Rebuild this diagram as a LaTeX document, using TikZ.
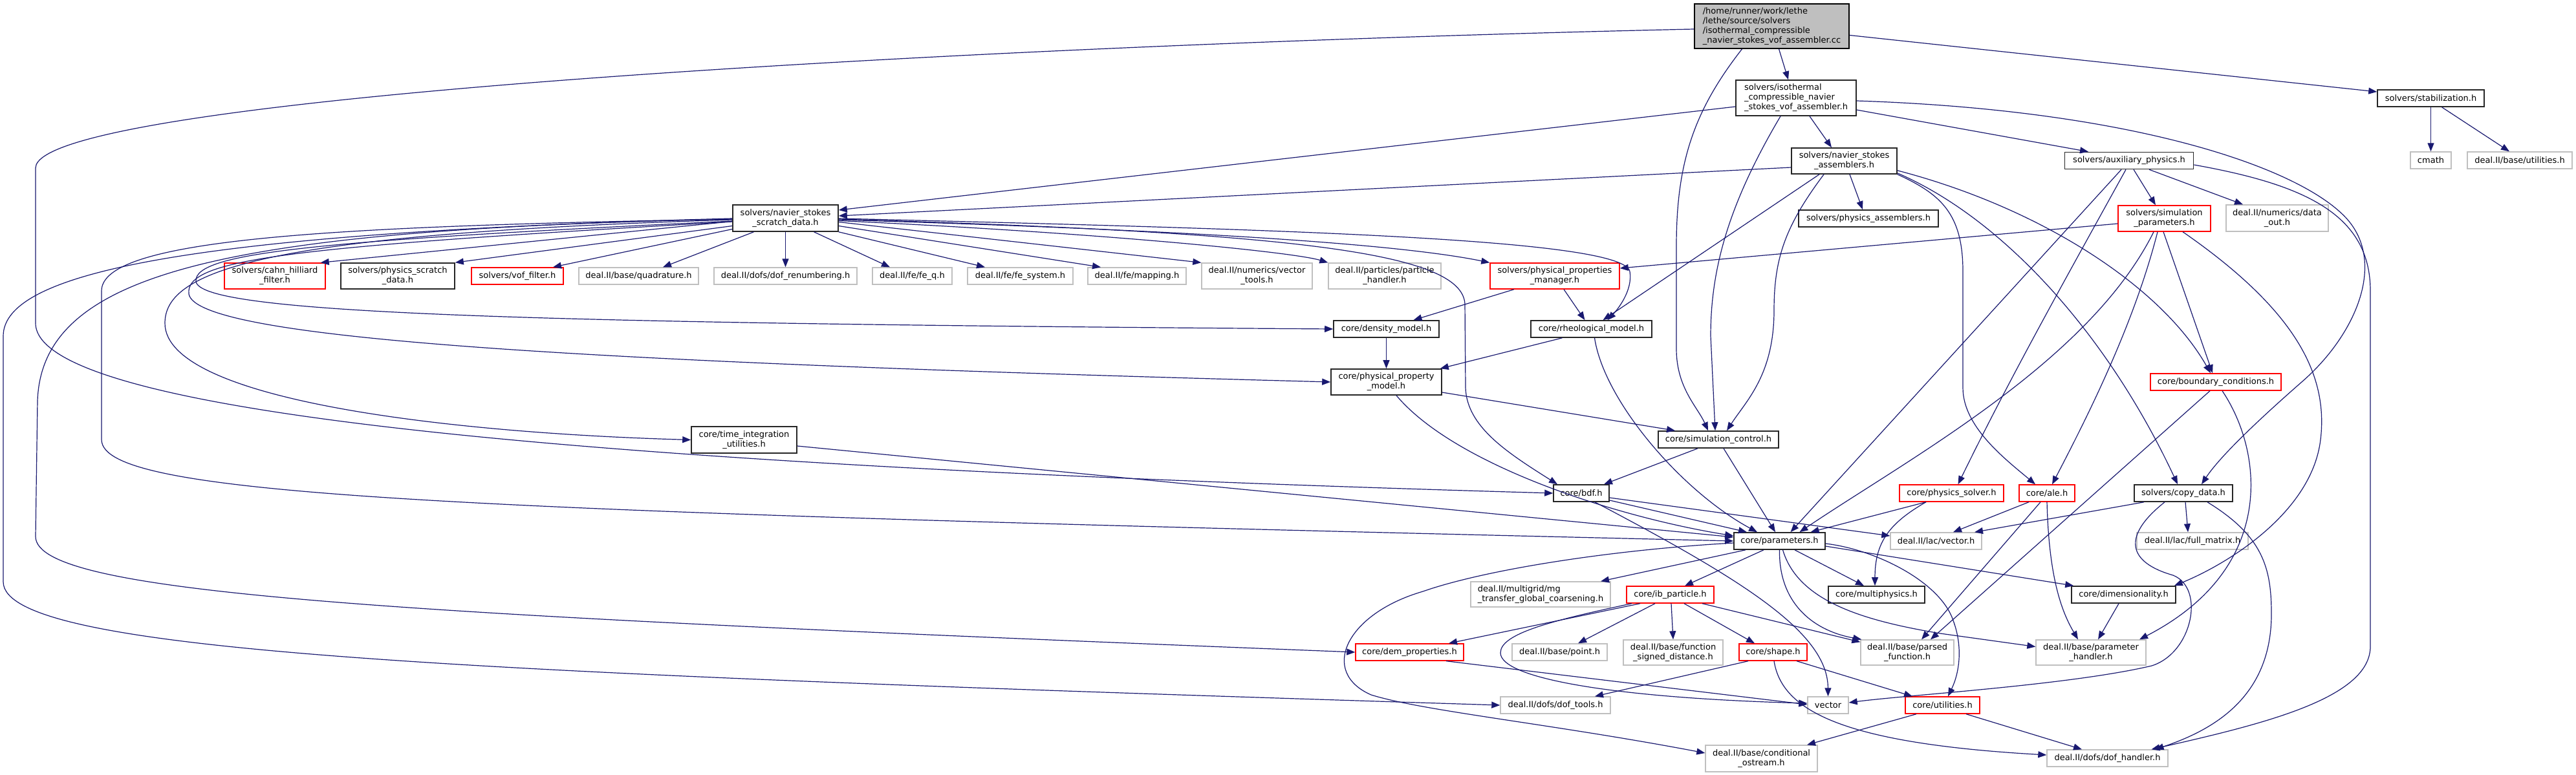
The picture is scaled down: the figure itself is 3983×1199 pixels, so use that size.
\documentclass[tikz,border=0pt]{standalone}
\usepackage{fontspec}
\setmainfont{DejaVu Sans}
\usetikzlibrary{arrows.meta}
\definecolor{incblue}{HTML}{191970}
\definecolor{extgray}{HTML}{BFBFBF}
\definecolor{rootfill}{HTML}{BFBFBF}
\definecolor{truncred}{HTML}{FF0000}

\begin{document}
\begin{tikzpicture}[x=1pt, y=-1pt,
  hdr/.style={rectangle, draw=black!85, line width=1.6pt, fill=white, inner sep=0pt, align=center, font=\fontsize{13}{15}\selectfont},
  ext/.style={hdr, draw=extgray, line width=1.4pt},
  trunc/.style={hdr, draw=truncred, line width=1.4pt},
  root/.style={hdr, draw=black, fill=rootfill, align=left},
  inc/.style={-{Triangle[length=13pt,width=10pt]}, line width=1.2pt, draw=incblue},
]
\path[use as bounding box, fill=white] (0,0) rectangle (3983,1199);

% top rows
\node[root, minimum width=239pt, minimum height=69pt] (main) at (2739.5,40.5) {/home/runner/work/lethe\\/lethe/source/solvers\\/isothermal\_compressible\\\_navier\_stokes\_vof\_assembler.cc};
\node[hdr, align=left, minimum width=186pt, minimum height=55pt] (iso) at (2777,151.5) {solvers/isothermal\\\_compressible\_navier\\\_stokes\_vof\_assembler.h};
\node[hdr, minimum width=165pt, minimum height=26pt] (stab) at (3758.5,152) {solvers/stabilization.h};
\node[hdr, minimum width=163pt, minimum height=40pt] (nsasm) at (2851.5,249) {solvers/navier\_stokes\\\_assemblers.h};
\node[hdr, minimum width=199pt, minimum height=26pt] (aux) at (3292,248.5) {solvers/auxiliary\_physics.h};
\node[ext, minimum width=63pt, minimum height=26pt] (cmath) at (3758.5,248) {cmath};
\node[ext, minimum width=162pt, minimum height=26pt] (dutil) at (3896,248) {deal.II/base/utilities.h};
\node[hdr, minimum width=216pt, minimum height=26pt] (physasm) at (2889,338) {solvers/physics\_assemblers.h};
\node[trunc, minimum width=143pt, minimum height=40pt] (simpar) at (3346.5,338) {solvers/simulation\\\_parameters.h};
\node[ext, minimum width=158pt, minimum height=41pt] (dataout) at (3521,337.5) {deal.II/numerics/data\\\_out.h};
\node[hdr, minimum width=163pt, minimum height=41pt] (scratch) at (1214.5,337.5) {solvers/navier\_stokes\\\_scratch\_data.h};

% row under the scratch data
\node[trunc, minimum width=156pt, minimum height=40pt] (cahn) at (425,427) {solvers/cahn\_hilliard\\\_filter.h};
\node[hdr, minimum width=176pt, minimum height=40pt] (physscr) at (615,427) {solvers/physics\_scratch\\\_data.h};
\node[trunc, minimum width=142pt, minimum height=26pt] (vof) at (800,427) {solvers/vof\_filter.h};
\node[ext, minimum width=185pt, minimum height=26pt] (quad) at (987.5,427) {deal.II/base/quadrature.h};
\node[ext, minimum width=221pt, minimum height=26pt] (renum) at (1214.5,427) {deal.II/dofs/dof\_renumbering.h};
\node[ext, minimum width=123pt, minimum height=26pt] (feq) at (1410.5,427) {deal.II/fe/fe\_q.h};
\node[ext, minimum width=163pt, minimum height=26pt] (fesys) at (1577.5,427) {deal.II/fe/fe\_system.h};
\node[ext, minimum width=152pt, minimum height=26pt] (mapping) at (1758,427) {deal.II/fe/mapping.h};
\node[ext, minimum width=171pt, minimum height=40pt] (vtools) at (1943.5,427) {deal.II/numerics/vector\\\_tools.h};
\node[ext, minimum width=174pt, minimum height=40pt] (phandler) at (2141,427) {deal.II/particles/particle\\\_handler.h};
\node[trunc, minimum width=200pt, minimum height=40pt] (ppm) at (2404,427) {solvers/physical\_properties\\\_manager.h};

\node[hdr, minimum width=163pt, minimum height=26pt] (dens) at (2143.5,509) {core/density\_model.h};
\node[hdr, minimum width=187pt, minimum height=26pt] (rheo) at (2460.5,509) {core/rheological\_model.h};
\node[hdr, minimum width=171pt, minimum height=40pt] (ppmod) at (2143.5,591) {core/physical\_property\\\_model.h};
\node[trunc, minimum width=202pt, minimum height=26pt] (bc) at (3426,591) {core/boundary\_conditions.h};
\node[hdr, minimum width=163pt, minimum height=41pt] (tint) at (1150.5,680.5) {core/time\_integration\\\_utilities.h};
\node[hdr, minimum width=186pt, minimum height=26pt] (simctl) at (2657,680) {core/simulation\_control.h};

\node[hdr, minimum width=86pt, minimum height=26pt] (bdf) at (2445,763) {core/bdf.h};
\node[trunc, minimum width=161pt, minimum height=26pt] (psolver) at (3017.5,763) {core/physics\_solver.h};
\node[trunc, minimum width=86pt, minimum height=26pt] (ale) at (3165,763) {core/ale.h};
\node[hdr, minimum width=152pt, minimum height=26pt] (copy) at (3376,763) {solvers/copy\_data.h};
\node[hdr, minimum width=141pt, minimum height=26pt] (params) at (2751.5,837) {core/parameters.h};
\node[ext, minimum width=141pt, minimum height=26pt] (lvec) at (2993.5,837) {deal.II/lac/vector.h};
\node[ext, minimum width=172pt, minimum height=26pt] (fmat) at (3390,837) {deal.II/lac/full\_matrix.h};

\node[ext, align=left, minimum width=216pt, minimum height=39pt] (mg) at (2382,919.5) {deal.II/multigrid/mg\\\_transfer\_global\_coarsening.h};
\node[trunc, minimum width=135pt, minimum height=26pt] (ibp) at (2582.5,920) {core/ib\_particle.h};
\node[hdr, minimum width=149pt, minimum height=26pt] (mphys) at (2901.5,920) {core/multiphysics.h};
\node[hdr, minimum width=161pt, minimum height=26pt] (dim) at (3283.5,920) {core/dimensionality.h};

\node[trunc, minimum width=167pt, minimum height=26pt] (dem) at (2179.5,1009) {core/dem\_properties.h};
\node[ext, minimum width=147pt, minimum height=26pt] (point) at (2411.5,1009) {deal.II/base/point.h};
\node[ext, minimum width=154pt, minimum height=39pt] (fsd) at (2587,1009.5) {deal.II/base/function\\\_signed\_distance.h};
\node[trunc, minimum width=105pt, minimum height=26pt] (shape) at (2741.5,1009) {core/shape.h};
\node[ext, minimum width=144pt, minimum height=39pt] (pfunc) at (2949,1009.5) {deal.II/base/parsed\\\_function.h};
\node[ext, minimum width=170pt, minimum height=39pt] (phand) at (3233,1009.5) {deal.II/base/parameter\\\_handler.h};

\node[ext, minimum width=170pt, minimum height=26pt] (doft) at (2405,1091) {deal.II/dofs/dof\_tools.h};
\node[ext, minimum width=63pt, minimum height=26pt] (vector) at (2826.5,1091) {vector};
\node[trunc, minimum width=115pt, minimum height=26pt] (util) at (3003.5,1091) {core/utilities.h};
\node[ext, minimum width=173pt, minimum height=41pt] (cond) at (2723.5,1173.5) {deal.II/base/conditional\\\_ostream.h};
\node[ext, minimum width=187pt, minimum height=26pt] (dofh) at (3258.5,1173) {deal.II/dofs/dof\_handler.h};

% includes of the .cc file
\draw[inc] ([xshift=11pt]main.south) -- ([xshift=-12pt]iso.north);
\draw[inc] ([yshift=-14pt]main.east) -- ([yshift=10pt]stab.west);
\draw[inc] ([xshift=-46pt]main.south) .. controls (2620,170) and (2592,250) .. (2592,380) -- (2592,540) .. controls (2592,600) and (2625,630) .. ([xshift=-16pt]simctl.north);
\draw[inc] ([yshift=-4.5pt]main.west) .. controls (1500,70) and (55,150) .. (55,260) -- (55,500) .. controls (55,640) and (900,720) .. (bdf.west);

% assemblers
\draw[inc] ([yshift=-13.5pt]iso.west) -- ([yshift=12.5pt]scratch.east);
\draw[inc] ([xshift=21pt]iso.south) -- ([xshift=-19.5pt]nsasm.north);
\draw[inc] ([xshift=-24pt]iso.south) .. controls (2670,320) and (2645,420) .. (2645,520) -- ([xshift=-5pt]simctl.north);
\draw[inc] ([yshift=-18.5pt]iso.east) -- ([xshift=-63pt]aux.north);
\draw[inc] ([yshift=-4.5pt]iso.east) .. controls (3300,170) and (3560,260) .. (3630,340) .. controls (3690,410) and (3640,520) .. (3560,590) .. controls (3480,660) and (3430,710) .. ([xshift=28pt]copy.north);

\draw[inc] ([yshift=-10pt]nsasm.west) -- ([yshift=3.5pt]scratch.east);
\draw[inc] ([xshift=8.5pt]nsasm.south) -- ([xshift=-9pt]physasm.north);
\draw[inc] ([xshift=-31.5pt]nsasm.south) .. controls (2760,350) and (2743,400) .. (2743,480) .. controls (2743,580) and (2700,620) .. ([xshift=13pt]simctl.north);
\draw[inc] ([xshift=-38.5pt]nsasm.south) -- ([xshift=18pt]rheo.north);
\draw[inc] (nsasm.south east) .. controls (3000,300) and (3035,330) .. (3035,420) -- (3035,600) .. controls (3035,660) and (3100,710) .. ([xshift=-18pt]ale.north);
\draw[inc] ([yshift=2pt]nsasm.south east) .. controls (3100,340) and (3260,520) .. ([xshift=-9pt]copy.north);
\draw[inc] ([yshift=6pt]nsasm.south east) .. controls (3150,320) and (3340,440) .. ([xshift=-8pt]bc.north);

% auxiliary physics and simulation parameters
\draw[inc] ([xshift=7pt]aux.south) -- ([xshift=-13.5pt]simpar.north);
\draw[inc] ([xshift=31pt]aux.south) -- ([xshift=-53pt]dataout.north);
\draw[inc] ([xshift=-5pt]aux.south) .. controls (3200,420) and (3110,580) .. ([xshift=10pt]psolver.north);
\draw[inc] ([xshift=-12pt]aux.south) -- ([xshift=17pt]params.north);
\draw[inc] ([yshift=-6.5pt]aux.east) .. controls (3560,285) and (3665,330) .. (3665,450) -- (3665,1000) .. controls (3665,1080) and (3500,1120) .. ([xshift=68pt]dofh.north);

\draw[inc] ([yshift=-8pt]simpar.west) -- ([yshift=12pt]ppm.east);
\draw[inc] ([xshift=-16.5pt]simpar.south) .. controls (3230,560) and (2950,710) .. ([xshift=31pt]params.north);
\draw[inc] ([xshift=-10.5pt]simpar.south) .. controls (3300,500) and (3230,640) .. ([xshift=8pt]ale.north);
\draw[inc] ([xshift=-1.5pt]simpar.south) -- ([xshift=-5pt]bc.north);
\draw[inc] ([xshift=28.5pt]simpar.south) .. controls (3550,480) and (3600,580) .. (3588,680) .. controls (3575,790) and (3450,870) .. ([xshift=-3pt]dim.north east);

\draw[inc] (stab.south) -- (cmath.north);
\draw[inc] ([xshift=17pt]stab.south) -- ([xshift=-16pt]dutil.north);

% scratch data fan-out
\draw[inc] ([yshift=-5pt]scratch.west) -- ([xshift=-8pt]cahn.north east);
\draw[inc] ([yshift=-12pt]scratch.west) -- (physscr.north east);
\draw[inc] ([yshift=-17pt]scratch.west) -- ([xshift=55pt]vof.north);
\draw[inc] ([xshift=-49pt]scratch.south) -- ([xshift=37.5pt]quad.north);
\draw[inc] (scratch.south) -- (renum.north);
\draw[inc] ([xshift=44pt]scratch.south) -- ([xshift=-34.5pt]feq.north);
\draw[inc] (scratch.south east) -- ([xshift=-54.5pt]fesys.north);
\draw[inc] ([yshift=-12pt]scratch.east) -- ([xshift=-56pt]mapping.north);
\draw[inc] ([yshift=-6pt]scratch.east) -- (vtools.north west);
\draw[inc] ([yshift=-4pt]scratch.east) .. controls (1700,360) and (2000,390) .. (phandler.north west);
\draw[inc] ([yshift=-2.5pt]scratch.east) .. controls (1800,355) and (2150,375) .. (ppm.north west);
\draw[inc] ([yshift=-0.5pt]scratch.east) .. controls (2000,355) and (2510,370) .. (2520,420) .. controls (2525,450) and (2500,480) .. ([xshift=25pt]rheo.north);
\draw[inc] ([yshift=-1.5pt]scratch.east) .. controls (2000,360) and (2260,390) .. (2265,470) -- (2266,600) .. controls (2268,660) and (2330,700) .. ([xshift=-37pt]bdf.north);
\draw[inc] ([yshift=-4.5pt]scratch.west) .. controls (500,372) and (300,390) .. (303,435) .. controls (306,485) and (800,500) .. (dens.west);
\draw[inc] ([yshift=-5.5pt]scratch.west) .. controls (450,382) and (285,400) .. (292,455) .. controls (305,525) and (900,560) .. (ppmod.west);
\draw[inc] ([yshift=-1.5pt]scratch.west) .. controls (500,350) and (157,370) .. (157,450) -- (157,680) .. controls (157,770) and (700,790) .. (params.west);
\draw[inc] ([yshift=-1.5pt]scratch.west) .. controls (350,355) and (65,420) .. (58,620) -- (55,830) .. controls (55,920) and (600,950) .. (dem.west);
\draw[inc] ([yshift=-0.5pt]scratch.west) .. controls (300,360) and (5,420) .. (5,520) -- (5,900) .. controls (5,1010) and (700,1040) .. (doft.west);
\draw[inc] ([yshift=-2.5pt]scratch.west) .. controls (400,362) and (255,420) .. (255,500) .. controls (255,620) and (700,670) .. (tint.west);

% material models, time stepping
\draw[inc] ([xshift=-63pt]ppm.south) -- ([xshift=42pt]dens.north);
\draw[inc] ([xshift=14pt]ppm.south) -- ([xshift=-10pt]rheo.north);
\draw[inc] (dens.south) -- (ppmod.north);
\draw[inc] ([xshift=-45pt]rheo.south) -- ([xshift=-3pt]ppmod.north east);
\draw[inc] ([xshift=5pt]rheo.south) .. controls (2480,620) and (2600,760) .. ([xshift=-34.5pt]params.north);
\draw[inc] ([yshift=-16pt]ppmod.east) -- ([xshift=-67pt]simctl.north);
\draw[inc] ([xshift=15.5pt]ppmod.south) .. controls (2250,720) and (2500,800) .. ([yshift=8pt]params.west);
\draw[inc] ([yshift=-9.5pt]tint.east) -- ([yshift=6pt]params.west);
\draw[inc] ([xshift=-32pt]simctl.south) -- ([xshift=35pt]bdf.north);
\draw[inc] ([xshift=8pt]simctl.south) -- ([xshift=-6.5pt]params.north);
\draw[inc] ([yshift=-11pt]bdf.east) -- ([xshift=-50.5pt]params.north);
\draw[inc] ([yshift=-7pt]bdf.east) -- ([yshift=8pt]lvec.west);
\draw[inc] ([xshift=21pt]bdf.south) .. controls (2700,900) and (2826,980) .. (vector.north);

\draw[inc] ([xshift=-39.5pt]psolver.south) -- ([xshift=48pt]params.north);
\draw[inc] ([xshift=-39.5pt]psolver.south) .. controls (2920,810) and (2899,840) .. ([xshift=-2.5pt]mphys.north);
\draw[inc] ([xshift=-28pt]ale.south) -- ([xshift=26.5pt]lvec.north);
\draw[inc] ([xshift=-10pt]ale.south) -- ([xshift=22pt]pfunc.north);
\draw[inc] (ale.south) .. controls (3168,900) and (3190,950) .. ([xshift=-20pt]phand.north);
\draw[inc] ([xshift=-61pt]copy.south) -- ([xshift=59.5pt]lvec.north);
\draw[inc] ([xshift=3pt]copy.south) -- ([xshift=-7pt]fmat.north);
\draw[inc] ([xshift=-29pt]copy.south) .. controls (3280,830) and (3290,870) .. (3360,890) .. controls (3410,910) and (3390,1010) .. (3327,1030) .. controls (3200,1060) and (2950,1075) .. ([yshift=4pt]vector.east);
\draw[inc] ([xshift=37pt]copy.south) .. controls (3500,830) and (3512,880) .. (3512,950) .. controls (3512,1080) and (3420,1130) .. ([xshift=74pt]dofh.north);
\draw[inc] ([xshift=-9pt]bc.south) -- ([xshift=36pt]pfunc.north);
\draw[inc] ([xshift=10pt]bc.south) .. controls (3500,700) and (3520,880) .. ([xshift=75pt]phand.north);

% parameters and below
\draw[inc] ([xshift=-52.5pt]params.south) -- ([xshift=93pt]mg.north);
\draw[inc] ([xshift=-24.5pt]params.south) -- ([xshift=22.5pt]ibp.north);
\draw[inc] ([xshift=23.5pt]params.south) -- ([xshift=-19.5pt]mphys.north);
\draw[inc] (params.south) .. controls (2750,930) and (2800,975) .. ([xshift=2pt]pfunc.north west);
\draw[inc] ([xshift=5pt]params.south) .. controls (2780,930) and (2880,960) .. (3000,980) -- ([yshift=9pt]phand.west);
\draw[inc] ([yshift=-8pt]params.east) -- ([xshift=4pt]dim.north west);
\draw[inc] ([yshift=-4pt]params.east) .. controls (2900,850) and (3000,900) .. (3020,960) .. controls (3035,1000) and (3030,1040) .. ([xshift=8.5pt]util.north);
\draw[inc] ([yshift=-3pt]params.west) .. controls (2500,850) and (2300,880) .. (2200,915) .. controls (2080,950) and (2040,1040) .. (2120,1075) .. controls (2200,1100) and (2400,1120) .. ([yshift=8.5pt]cond.west);

\draw[inc] ([xshift=-46.5pt]ibp.south) -- ([xshift=60.5pt]dem.north);
\draw[inc] ([xshift=-59.5pt]ibp.south) .. controls (2400,960) and (2320,980) .. (2320,1010) .. controls (2320,1050) and (2500,1080) .. ([yshift=3pt]vector.west);
\draw[inc] ([xshift=-23.5pt]ibp.south) -- ([xshift=28.5pt]point.north);
\draw[inc] ([xshift=1.5pt]ibp.south) -- (fsd.north);
\draw[inc] ([xshift=21.5pt]ibp.south) -- ([xshift=-28.5pt]shape.north);
\draw[inc] ([xshift=49.5pt]ibp.south) -- ([yshift=-4pt]pfunc.north west);
\draw[inc] ([xshift=56.5pt]dem.south) -- ([yshift=1pt]vector.west);
\draw[inc] ([xshift=-38.5pt]shape.south) -- ([xshift=61pt]doft.north);
\draw[inc] ([xshift=36.5pt]shape.south) -- ([xshift=-46.5pt]util.north);
\draw[inc] ([xshift=1.5pt]shape.south) .. controls (2755,1100) and (2850,1150) .. ([yshift=5pt]dofh.west);
\draw[inc] ([xshift=-40.5pt]util.south) -- ([xshift=70.5pt]cond.north);
\draw[inc] ([xshift=36.5pt]util.south) -- ([xshift=-39.5pt]dofh.north);
\draw[inc] ([xshift=-7.5pt]dim.south) -- ([xshift=11pt]phand.north);
\end{tikzpicture}
\end{document}
